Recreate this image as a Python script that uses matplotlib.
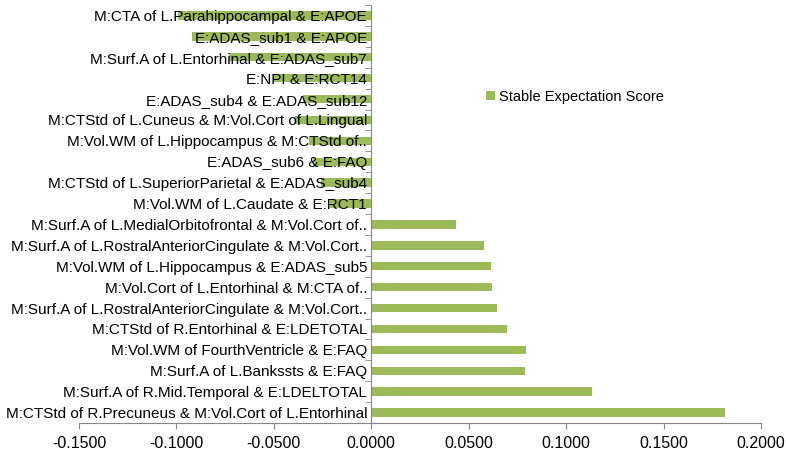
import numpy as np
import matplotlib
matplotlib.use("Agg")
import matplotlib.pyplot as plt

plt.rcParams['font.family'] = ['Liberation Sans', 'DejaVu Sans']

# bottom to top
labels = [
    "M:CTStd of R.Precuneus & M:Vol.Cort of L.Entorhinal",
    "M:Surf.A of R.Mid.Temporal & E:LDELTOTAL",
    "M:Surf.A of L.Bankssts & E:FAQ",
    "M:Vol.WM of FourthVentricle & E:FAQ",
    "M:CTStd of R.Entorhinal & E:LDETOTAL",
    "M:Surf.A of L.RostralAnteriorCingulate & M:Vol.Cort..",
    "M:Vol.Cort of L.Entorhinal & M:CTA of..",
    "M:Vol.WM of L.Hippocampus & E:ADAS_sub5",
    "M:Surf.A of L.RostralAnteriorCingulate & M:Vol.Cort..",
    "M:Surf.A of L.MedialOrbitofrontal & M:Vol.Cort of..",
    "M:Vol.WM of L.Caudate & E:RCT1",
    "M:CTStd of L.SuperiorParietal & E:ADAS_sub4",
    "E:ADAS_sub6 & E:FAQ",
    "M:Vol.WM of L.Hippocampus & M:CTStd of..",
    "M:CTStd of L.Cuneus & M:Vol.Cort of L.Lingual",
    "E:ADAS_sub4 & E:ADAS_sub12",
    "E:NPI & E:RCT14",
    "M:Surf.A of L.Entorhinal & E:ADAS_sub7",
    "E:ADAS_sub1 & E:APOE",
    "M:CTA of L.Parahippocampal & E:APOE",
]
scores = [0.1814, 0.1131, 0.0790, 0.0792, 0.0696, 0.0643, 0.0619, 0.0613,
          0.0580, 0.0433, -0.021, -0.026, -0.030, -0.032, -0.039, -0.035,
          -0.050, -0.073, -0.092, -0.099]
xticks = [-0.15, -0.10, -0.05, 0.0, 0.05, 0.10, 0.15, 0.20]

fig = plt.figure(figsize=(7.86, 4.54), dpi=100)
ax = fig.add_axes([79/786, 31/454, 682/786, 418/454])

pos = np.arange(len(labels))
ax.barh(pos, scores, height=0.4, color='#9BBB59', label='Stable Expectation Score')

ax.set_xlim(-0.15, 0.2)
ax.set_ylim(-0.5, len(labels) - 0.5)
ax.set_xticks(xticks)
ax.set_xticklabels(["%.4f" % v for v in xticks])
ax.set_yticks(pos)
ax.set_yticklabels(labels)
ax.set_yticks(np.arange(-0.5, len(labels)), minor=True)

for s in ['top', 'right']:
    ax.spines[s].set_visible(False)
ax.spines['left'].set_position(('data', 0))
for s in ['left', 'bottom']:
    ax.spines[s].set_color('#868686')
ax.tick_params(axis='y', which='major', length=0, pad=3, labelsize=11)
ax.tick_params(axis='y', which='minor', length=4, color='#868686')
ax.tick_params(axis='x', length=4, color='#868686', pad=5, labelsize=11.5)

ax.legend(loc='center left', bbox_to_anchor=(0.578, 0.78), frameon=False,
          handlelength=0.6, handleheight=0.6, handletextpad=0.3, fontsize=10.5)

fig.savefig('out.png', dpi=100)
